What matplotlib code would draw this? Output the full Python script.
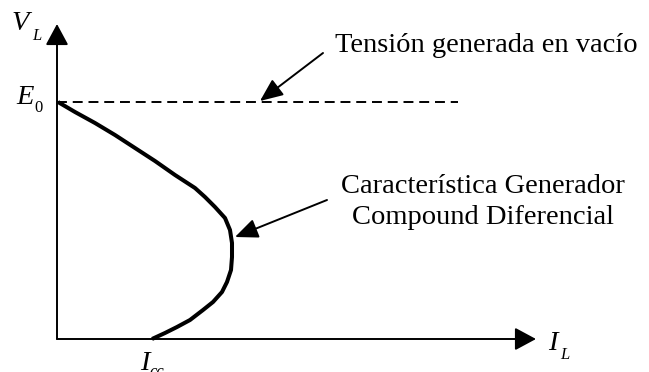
import matplotlib
matplotlib.use("Agg")
import matplotlib.pyplot as plt

# Characteristic curve of a differential compound generator (schematic units)
I_L = [1, 18, 38, 58, 78, 98, 118, 138, 148, 158, 168, 173, 175, 175, 174, 170, 165,
       156, 146, 133, 120, 108, 95]
V_L = [237, 227, 216, 204, 191, 178, 164, 151, 142, 132, 121, 109, 96, 82, 69, 57, 47,
       37, 29, 19, 12, 6, 0]
E0 = 237
I_max = 401          # end of the dashed no-load line
I_axis_end = 479
V_axis_end = 315

label_E0 = "Tensión generada en vacío"
label_curve = "Característica Generador\nCompound Diferencial"

plt.rcParams['font.family'] = ['Liberation Serif', 'DejaVu Serif']

fig = plt.figure(figsize=(6.49, 3.72), dpi=100)
ax = fig.add_axes([0, 0, 1, 1])
ax.set_xlim(-57, 592)
ax.set_ylim(-33, 339)
ax.axis('off')

# axes with arrows
ax.annotate('', xy=(0, V_axis_end), xytext=(0, 0),
            arrowprops=dict(arrowstyle='-|>,head_length=13,head_width=7', mutation_scale=1,
                            lw=1.4, color='black', shrinkA=0, shrinkB=0))
ax.annotate('', xy=(I_axis_end, 0), xytext=(0, 0),
            arrowprops=dict(arrowstyle='-|>,head_length=13,head_width=7', mutation_scale=1,
                            lw=1.4, color='black', shrinkA=0, shrinkB=0))

# dashed no-load line
ax.plot([0, I_max], [E0, E0], color='black', lw=1.4, linestyle=(0, (5.1, 3.0)))

# curve
ax.plot(I_L, V_L, color='black', lw=2.9, solid_joinstyle='round', solid_capstyle='butt')

# annotation arrows
ax.annotate('', xy=(203, 238), xytext=(266, 286),
            arrowprops=dict(arrowstyle='-|>,head_length=14,head_width=6', mutation_scale=1,
                            lw=1.4, color='black', shrinkA=0, shrinkB=0))
ax.annotate('', xy=(178, 102), xytext=(270, 139),
            arrowprops=dict(arrowstyle='-|>,head_length=14,head_width=6', mutation_scale=1,
                            lw=1.4, color='black', shrinkA=0, shrinkB=0))

fs = 20.5
ax.text(278, 294, label_E0, fontsize=fs, ha='left', va='center')
ax.text(426, 137, label_curve, fontsize=fs, ha='center', va='center', linespacing=1.3)

# axis labels (italic with subscripts)
sub = 12
ax.text(-45, 316, 'V', fontsize=fs, style='italic', ha='left', va='center')
ax.text(-25, 303, 'L', fontsize=sub, style='italic', ha='left', va='center')
ax.text(-41, 242, 'E', fontsize=fs, style='italic', ha='left', va='center')
ax.text(-23, 231, '0', fontsize=sub, ha='left', va='center')
ax.text(491, -4, 'I', fontsize=fs, style='italic', ha='left', va='center')
ax.text(503, -16, 'L', fontsize=sub, style='italic', ha='left', va='center')
ax.text(83, -25, 'I', fontsize=fs, style='italic', ha='left', va='center')
ax.text(92, -33, 'cc', fontsize=sub, style='italic', ha='left', va='center')

fig.savefig('out.png', dpi=100)
